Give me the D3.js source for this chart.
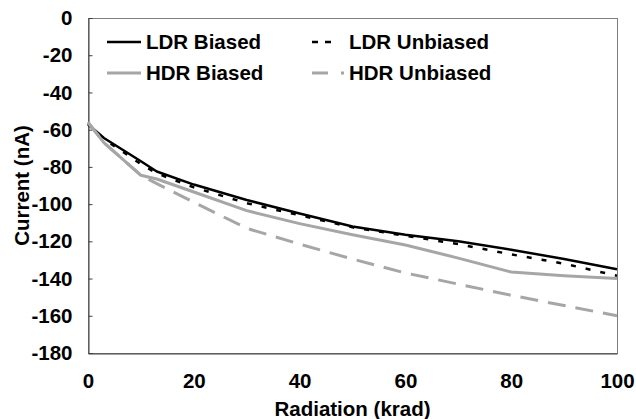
<!DOCTYPE html>
<html>
<head>
<meta charset="utf-8">
<script src="https://cdn.jsdelivr.net/npm/d3@7/dist/d3.min.js"></script>
<style>
  html, body { margin: 0; padding: 0; background: #fff; }
  svg { display: block; }
  text { font-family: "Liberation Sans", Arial, sans-serif; font-weight: bold; fill: #000; }
</style>
</head>
<body>
<svg id="chart" width="636" height="419"></svg>
<script>
// Total dose (krad) at each measurement
const dose = [0, 3, 10, 13, 20, 30, 40, 50, 60, 70, 80, 90, 100];

// Current (nA) for each irradiation condition
const ldrBiased   = [-57, -64.5, -77, -82.5, -89.5, -97.8, -105, -112, -116.5, -120, -124.5, -129.5, -135];
const ldrUnbiased = [-57, -65, -78.5, -83.5, -91, -99.5, -106, -112.5, -117, -121.5, -127, -132, -138.5];
const hdrBiased   = [-56, -67, -84.5, -86.5, -93.5, -103.5, -110.5, -116.5, -122, -129, -136.5, -138.5, -140];
const hdrUnbiased = [-56, -67, -84.5, -89, -99, -113, -121.5, -129.5, -137, -143, -149, -154.5, -160];

const seriesNames = ["LDR Biased", "LDR Unbiased", "HDR Biased", "HDR Unbiased"];
const xTicks = [0, 20, 40, 60, 80, 100];
const yTicks = [0, -20, -40, -60, -80, -100, -120, -140, -160, -180];

const series = [
  { name: seriesNames[0], values: ldrBiased,   color: "#000000", width: 2.5, dash: null,    key: { len: 34, dash: null } },
  { name: seriesNames[1], values: ldrUnbiased, color: "#000000", width: 2.5, dash: "5,10",  key: { len: 20, dash: "6,7" } },
  { name: seriesNames[2], values: hdrBiased,   color: "#a6a6a6", width: 3,   dash: null,    key: { len: 34, dash: null } },
  { name: seriesNames[3], values: hdrUnbiased, color: "#a6a6a6", width: 3,   dash: "18,10", key: { len: 32, dash: "16,13" } }
];

const FONT = "20.5px";
const svg = d3.select("#chart");
const plot = { left: 88, right: 617, top: 18, bottom: 353 };

const x = d3.scaleLinear().domain([0, 100]).range([plot.left, plot.right]);
const y = d3.scaleLinear().domain([-180, 0]).range([plot.bottom, plot.top]);

// Plot-area frame
svg.append("rect")
  .attr("x", plot.left + 0.5).attr("y", plot.top + 0.5)
  .attr("width", plot.right - plot.left).attr("height", plot.bottom - plot.top)
  .attr("fill", "none").attr("stroke", "#7f7f7f").attr("stroke-width", 1);

// Plain hyphen-minus labels
const fmt = d => String(d);

// Y axis with inward ticks
const yAxis = svg.append("g")
  .attr("transform", `translate(${plot.left + 0.5},0)`)
  .call(d3.axisLeft(y).tickValues(yTicks).tickSize(-4).tickPadding(16).tickFormat(fmt));
yAxis.select(".domain").attr("stroke", "#404040");
yAxis.selectAll(".tick line").attr("stroke", "#404040");
yAxis.selectAll(".tick text")
  .style("font-size", FONT).style("font-family", "'Liberation Sans', Arial, sans-serif")
  .style("font-weight", "bold").attr("fill", "#000");

// X axis
const xAxis = svg.append("g")
  .attr("transform", `translate(0,${plot.bottom + 0.5})`)
  .call(d3.axisBottom(x).tickValues(xTicks).tickSize(0).tickPadding(20).tickFormat(fmt));
xAxis.select(".domain").attr("stroke", "#404040");
xAxis.selectAll(".tick text")
  .style("font-size", FONT).style("font-family", "'Liberation Sans', Arial, sans-serif")
  .style("font-weight", "bold").attr("fill", "#000");

// Axis titles
svg.append("text")
  .attr("x", (plot.left + plot.right) / 2).attr("y", 416)
  .attr("text-anchor", "middle").style("font-size", FONT)
  .text("Radiation (krad)");

svg.append("text")
  .attr("transform", `translate(29,${(plot.top + plot.bottom) / 2}) rotate(-90)`)
  .attr("text-anchor", "middle").style("font-size", FONT)
  .text("Current (nA)");

// Series lines
const line = d3.line()
  .x((d, i) => x(dose[i]))
  .y(d => y(d));

svg.append("g").selectAll("path")
  .data(series)
  .join("path")
  .attr("d", s => line(s.values))
  .attr("fill", "none")
  .attr("stroke", s => s.color)
  .attr("stroke-width", s => s.width)
  .attr("stroke-dasharray", s => s.dash)
  .attr("stroke-linejoin", "round");

// Legend, two columns by two rows
const legendPos = [
  { x: 107, y: 42 }, { x: 312, y: 42 },
  { x: 107, y: 73 }, { x: 312, y: 73 }
];
const legend = svg.append("g").selectAll("g")
  .data(series)
  .join("g")
  .attr("transform", (s, i) => `translate(${legendPos[i].x},${legendPos[i].y})`);

legend.append("line")
  .attr("x1", 0).attr("x2", s => s.key.len).attr("y1", 0).attr("y2", 0)
  .attr("stroke", s => s.color)
  .attr("stroke-width", s => s.width)
  .attr("stroke-dasharray", s => s.key.dash);

legend.append("text")
  .attr("x", (s, i) => i % 2 === 0 ? 39 : 37)
  .attr("y", 0).attr("dy", "0.35em")
  .style("font-size", FONT)
  .text(s => s.name);
</script>
</body>
</html>
